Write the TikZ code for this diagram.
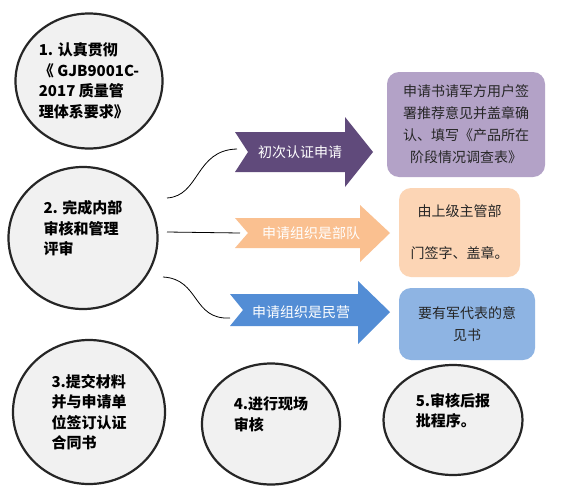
\documentclass[tikz,border=0pt]{standalone}
\usepackage{fontspec}
\setmainfont{Noto Sans CJK SC}
\usetikzlibrary{shapes.geometric,positioning,calc}

\definecolor{arrpurple}{HTML}{604A7B}
\definecolor{arrorange}{HTML}{FAC090}
\definecolor{arrblue}{HTML}{538DD5}
\definecolor{boxpurple}{HTML}{B3A2C7}
\definecolor{boxorange}{HTML}{FCD5B5}
\definecolor{boxblue}{HTML}{8EB4E3}
\definecolor{stagefill}{HTML}{F1F1F1}

\begin{document}
\begin{tikzpicture}[
    x=1pt, y=-1pt,
    stage/.style={ellipse, draw=black!85, fill=stagefill, line width=2.2pt, align=left, inner sep=0pt, font=\bfseries\fontsize{15}{20.5}\selectfont},
    note/.style={rectangle, rounded corners=12pt, align=center, inner sep=0pt, text=black!85, font=\fontsize{14}{22}\selectfont},
    arrowtext/.style={text=white, inner sep=0pt, font=\fontsize{14}{16}\selectfont},
    link/.style={line width=0.8pt, black}
]
\useasboundingbox[fill=white] (0,0) rectangle (570,498);

% Stage circles
\node[stage, minimum width=147, minimum height=135] (s1) at (89, 81) {1. 认真贯彻\\《 GJB9001C-\\2017 质量管\\理体系要求》};
\node[stage, minimum width=149, minimum height=142] (s2) at (83, 238) {2. 完成内部\\审核和管理\\评审\\~};
\node[stage, minimum width=152, minimum height=144] (s3) at (89, 412) {3.提交材料\\并与申请单\\位签订认证\\合同书};
\node[stage, minimum width=138, minimum height=121] (s4) at (271, 424) {4.进行现场\\审核\\~};
\node[stage, minimum width=139, minimum height=110] (s5) at (453, 420) {5.审核后报\\批程序。\\~};

% Block arrows (notched tail)
\fill[arrpurple] (235,132) -- (345,132) -- (345,117) -- (373,152) -- (345,187) -- (345,172) -- (235,172) -- (248,152) -- cycle;
\fill[arrorange] (235,218) -- (360,218) -- (360,205) -- (390,233) -- (360,262) -- (360,248) -- (235,248) -- (248,233) -- cycle;
\fill[arrblue] (230,294) -- (358,294) -- (358,281) -- (390,312) -- (358,344) -- (358,326) -- (230,326) -- (243,310) -- cycle;

\node[arrowtext] (first)  at (300, 152) {初次认证申请};
\node[arrowtext] (army)   at (311, 233) {申请组织是部队};
\node[arrowtext] (civil)  at (301, 312) {申请组织是民营};

% Result boxes
\node[note, fill=boxpurple, minimum width=158, minimum height=105] (res1) at (466, 124.5) {申请书请军方用户签\\署推荐意见并盖章确\\认、填写《产品所在\\阶段情况调查表》};
\node[note, fill=boxorange, minimum width=121, minimum height=89] (res2) at (459.5, 232.5) {由上级主管部\\[20pt]门签字、盖章。};
\node[note, fill=boxblue, minimum width=136, minimum height=72] (res3) at (467, 324) {要有军代表的意\\见书};

% Connectors from stage 2 to the arrow tails
\coordinate (c1) at (167, 198);
\coordinate (c2) at (167, 232);
\coordinate (c3) at (163, 277);
\coordinate (firsttail) at (237, 149);
\coordinate (armytail) at (240, 233);
\coordinate (civiltail) at (230, 318);

\draw[link] (c1) .. controls (200,196) and (195,150) .. (firsttail);
\draw[link] (c2) -- (armytail);
\draw[link] (c3) .. controls (200,279) and (192,320) .. (civiltail);

\end{tikzpicture}
\end{document}
